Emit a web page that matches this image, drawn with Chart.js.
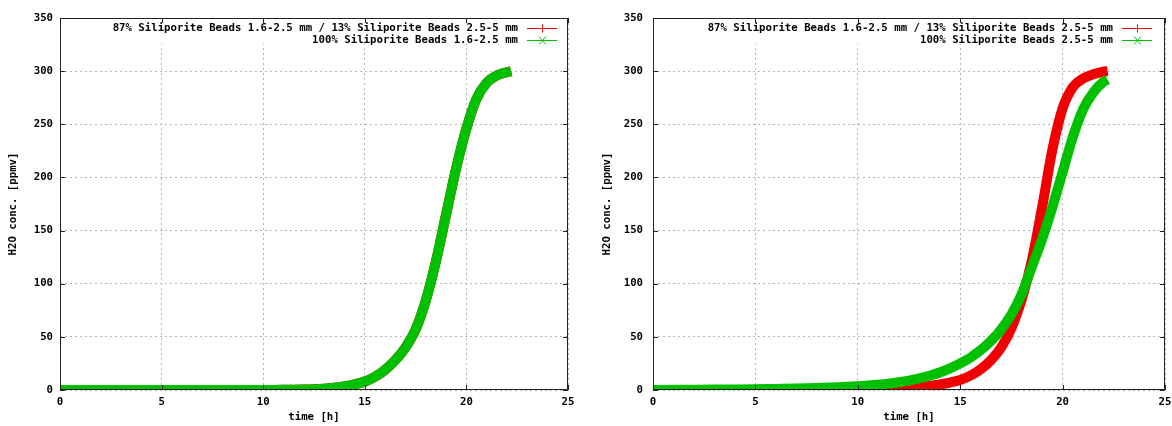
<!DOCTYPE html>
<html>
<head>
<meta charset="utf-8">
<script src="https://cdn.jsdelivr.net/npm/chart.js@4"></script>
<style>
  body { margin: 0; background: #fff; width: 1172px; height: 426px; overflow: hidden; }
  .panel { position: absolute; top: 0; width: 586px; height: 426px; }
</style>
</head>
<body>
<div class="panel" style="left:0"><canvas id="left-chart"></canvas></div>
<div class="panel" style="left:586px"><canvas id="right-chart"></canvas></div>
<script>
// time axis shared by every series [h]
const hours = [0, 1, 2, 3, 4, 5, 6, 7, 8, 9, 10, 10.5, 11, 11.5, 12, 12.5, 13, 13.5, 14, 14.5,
  15, 15.5, 16, 16.5, 17, 17.5, 18, 18.5, 19, 19.5, 20, 20.5, 21, 21.5, 22, 22.2]

// H2O concentration [ppmv]
const leftMixed = [0, 0, 0, 0, 0, 0, 0, 0, 0, 0, 0, 0.1, 0.2, 0.3, 0.5, 0.8, 1.3, 2.1, 3.3, 5.2,
  8, 12.5, 19, 28, 40, 57, 84, 121, 165, 209, 246, 274, 289, 296, 299, 300]
const leftFine = [0, 0, 0, 0, 0, 0, 0, 0, 0, 0, 0, 0.1, 0.2, 0.3, 0.5, 0.8, 1.3, 2.1, 3.3, 5.2,
  8, 12.5, 19, 28, 40, 57, 84, 121, 165, 209, 246, 274, 289, 296, 299, 300]
const rightMixed = [0, 0, 0, 0, 0, 0, 0, 0.1, 0.2, 0.4, 0.7, 0.9, 1.2, 1.6, 2, 2.3, 2.8, 3.8, 5.2, 7,
  9.5, 13.5, 19.5, 28, 40, 58, 85, 122, 172, 226, 265, 285, 293, 297, 299.5, 300]
const rightCoarse = [0.1, 0.2, 0.3, 0.4, 0.5, 0.7, 1, 1.3, 1.8, 2.5, 3.5, 4.2, 5, 6, 7.3, 8.9, 10.9, 13.4, 16.5, 20.4,
  25, 30.5, 37.5, 46, 57, 71, 90, 116, 142, 172, 205, 238, 264, 280, 290, 292]

const leftLabels = ['87% Siliporite Beads 1.6-2.5 mm / 13% Siliporite Beads 2.5-5 mm', '100% Siliporite Beads 1.6-2.5 mm']
const rightLabels = ['87% Siliporite Beads 1.6-2.5 mm / 13% Siliporite Beads 2.5-5 mm', '100% Siliporite Beads 2.5-5 mm']

const xRange = [0, 25, 5]
const yRange = [0, 350, 50]

const FONT = { family: 'DejaVu Sans Mono', size: 10.7, weight: 'bold' }
const RED = '#f00000'
const GREEN = '#00c000'

function points(values) {
  return values.map(function (v, i) { return { x: hours[i], y: v } })
}

// key in the top right corner, text right-aligned with a sample after it
const keyBox = {
  id: 'keyBox',
  afterDatasetsDraw(chart, args, opts) {
    const ctx = chart.ctx
    const area = chart.chartArea
    const textRight = area.right - opts.textOffset
    const x0 = area.right - opts.sampleFrom
    const x1 = area.right - opts.sampleTo
    ctx.save()
    ctx.font = 'bold 10.7px "DejaVu Sans Mono"'
    let widest = 0
    chart.data.datasets.forEach(function (d) { widest = Math.max(widest, ctx.measureText(d.label).width) })
    const boxLeft = textRight - widest - 5
    ctx.fillStyle = '#fff'
    ctx.fillRect(boxLeft, area.top + 1, area.right - 1 - boxLeft, 25)
    chart.data.datasets.forEach(function (d, i) {
      const y = Math.round(area.top + 10 + i * 12)
      ctx.fillStyle = '#000'
      ctx.textAlign = 'right'
      ctx.textBaseline = 'middle'
      ctx.fillText(d.label, textRight, y)
      ctx.strokeStyle = d.borderColor
      ctx.lineWidth = 1
      ctx.beginPath()
      ctx.moveTo(x0, y + 0.5)
      ctx.lineTo(x1, y + 0.5)
      const cx = Math.round((x0 + x1) / 2) + 0.5
      if (d.keyMarker === 'plus') {
        ctx.moveTo(cx, y - 3.5)
        ctx.lineTo(cx, y + 4.5)
      } else {
        ctx.moveTo(cx - 3.5, y - 3.5)
        ctx.lineTo(cx + 3.5, y + 4.5)
        ctx.moveTo(cx - 3.5, y + 4.5)
        ctx.lineTo(cx + 3.5, y - 3.5)
      }
      ctx.stroke()
    })
    ctx.restore()
  }
}

// plot border with tick marks pointing inwards on all four sides
const frame = {
  id: 'frame',
  afterDraw(chart) {
    const ctx = chart.ctx
    const a = chart.chartArea
    const xs = chart.scales.x
    const ys = chart.scales.y
    ctx.save()
    ctx.strokeStyle = '#222'
    ctx.lineWidth = 1
    ctx.beginPath()
    ctx.rect(a.left + 0.5, a.top + 0.5, a.right - a.left - 1, a.bottom - a.top - 1)
    xs.ticks.forEach(function (t) {
      const px = Math.round(xs.getPixelForValue(t.value)) + 0.5
      ctx.moveTo(px, a.bottom)
      ctx.lineTo(px, a.bottom - 5)
      ctx.moveTo(px, a.top)
      ctx.lineTo(px, a.top + 5)
    })
    ys.ticks.forEach(function (t) {
      const py = Math.round(ys.getPixelForValue(t.value)) + 0.5
      ctx.moveTo(a.left, py)
      ctx.lineTo(a.left + 5, py)
      ctx.moveTo(a.right, py)
      ctx.lineTo(a.right - 5, py)
    })
    ctx.stroke()
    ctx.restore()
  }
}

function makeChart(id, labels, mixed, single, layout) {
  return new Chart(document.getElementById(id), {
    type: 'line',
    data: {
      datasets: [
        {
          label: labels[0],
          data: points(mixed),
          borderColor: RED,
          keyMarker: 'plus',
          order: 1
        },
        {
          label: labels[1],
          data: points(single),
          borderColor: GREEN,
          keyMarker: 'cross',
          order: 0
        }
      ]
    },
    options: {
      responsive: true,
      maintainAspectRatio: false,
      animation: false,
      layout: { padding: { top: 18, right: layout.padRight, bottom: 0, left: 0 } },
      elements: {
        line: { borderWidth: 10, cubicInterpolationMode: 'monotone', borderCapStyle: 'butt', fill: false },
        point: { radius: 0 }
      },
      plugins: {
        legend: { display: false },
        tooltip: { enabled: false },
        keyBox: layout.key
      },
      scales: {
        x: {
          type: 'linear',
          min: xRange[0],
          max: xRange[1],
          ticks: { stepSize: xRange[2], color: '#000', font: FONT, padding: 6, maxRotation: 0 },
          grid: { color: '#b4b4b4', drawTicks: false },
          border: { display: false, dash: [2, 3] },
          title: { display: true, text: 'time [h]', color: '#000', font: FONT, padding: { top: 0, bottom: 2 } },
          afterFit: function (s) { s.height = 36; s.paddingLeft = 0; s.paddingRight = 0 }
        },
        y: {
          min: yRange[0],
          max: yRange[1],
          ticks: { stepSize: yRange[2], color: '#000', font: FONT, padding: layout.tickPad },
          grid: { color: '#b4b4b4', drawTicks: false },
          border: { display: false, dash: [2, 3] },
          title: { display: true, text: 'H2O conc. [ppmv]', color: '#000', font: FONT, padding: { top: layout.titlePad, bottom: 0 } },
          afterFit: function (s) { s.width = layout.yWidth; s.paddingTop = 0; s.paddingBottom = 0 }
        }
      }
    },
    plugins: [keyBox, frame]
  })
}

makeChart('left-chart', leftLabels, leftMixed, leftFine, {
  padRight: 18, yWidth: 60, tickPad: 7, titlePad: 7,
  key: { textOffset: 50, sampleFrom: 41, sampleTo: 11 }
})
makeChart('right-chart', rightLabels, rightMixed, rightCoarse, {
  padRight: 7, yWidth: 67, tickPad: 10, titlePad: 15,
  key: { textOffset: 52, sampleFrom: 43, sampleTo: 13 }
})
</script>
</body>
</html>
